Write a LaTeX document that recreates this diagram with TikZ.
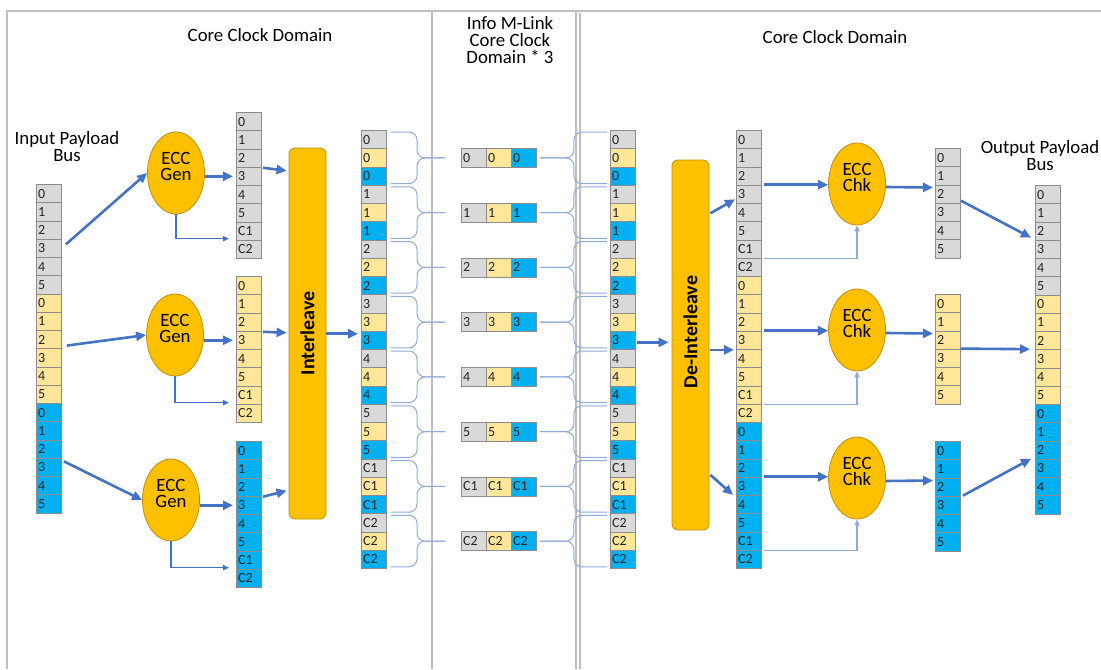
\documentclass[tikz,border=0pt]{standalone}
\usepackage{fontspec}
\setmainfont{Carlito}
\usepackage{graphicx}
\usetikzlibrary{shapes.geometric, arrows.meta, positioning, calc}

\definecolor{cgray}{HTML}{D9D9D9}
\definecolor{cyel}{HTML}{FFE699}
\definecolor{cblue}{HTML}{00B0F0}
\definecolor{eccfill}{HTML}{FFC000}
\definecolor{eccline}{HTML}{C09000}
\definecolor{arrowblue}{HTML}{4472C4}
\definecolor{lightblue}{HTML}{8FAADC}
\definecolor{framegray}{HTML}{BFBFBF}
\definecolor{cellline}{HTML}{8C8C8C}
\colorlet{col0}{cgray}
\colorlet{col1}{cyel}
\colorlet{col2}{cblue}

\begin{document}
\begin{tikzpicture}[
    x=0.5pt, y=-0.5pt,
    cell/.style={draw=cellline, line width=0.45pt, minimum width=12.5pt, minimum height=9.125pt, inner sep=0pt, anchor=north west, text width=10.8pt, align=left, text=black!85, font=\fontsize{7}{7}\selectfont},
    tcell/.style={cell, minimum height=9.5pt},
    ecc/.style={ellipse, draw=eccline, line width=0.4pt, fill=eccfill, minimum width=28.5pt, minimum height=41pt, inner sep=0pt,
        label={[align=center, yshift=3.5pt, font=\fontsize{9.4}{8}\selectfont]center:#1}},
    stage/.style={draw=eccline, line width=0.4pt, fill=eccfill, rounded corners=3pt, minimum width=18.5pt, minimum height=185.5pt, inner sep=0pt, font=\bfseries\fontsize{10}{12}\selectfont},
    flow/.style={-{Triangle[length=5pt,width=4.5pt]}, line width=1.3pt, arrowblue},
    sidearrow/.style={-{Triangle[length=3pt,width=2.6pt]}, line width=0.6pt, arrowblue},
    checkarrow/.style={sidearrow, lightblue},
    bracepath/.style={lightblue, line width=0.5pt, rounded corners=4pt},
    frameline/.style={framegray, line width=1pt},
    heading/.style={align=center, font=\fontsize{9.4}{8.5}\selectfont}
]
\useasboundingbox (0,0) rectangle (1101,669);

% clock domain frames
\draw[frameline] (7,669) -- (7,11) -- (1101,11);
\draw[frameline] (432,11) -- (432,669);
\draw[frameline] (576,11) -- (576,669);
\draw[frameline] (580,13) -- (580,669);

\node[heading] (lefttitle) at (260,35) {Core Clock Domain};
\node[heading] (midtitle) at (510,40) {Info M-Link\\Core Clock\\Domain * 3};
\node[heading] (righttitle) at (835,37) {Core Clock Domain};
\node[heading] (inlabel) at (67,147) {Input Payload\\Bus};
\node[heading] (outlabel) at (1040,156) {Output Payload\\Bus};

% payload buses
\foreach \i in {0,...,17} {
    \pgfmathtruncatemacro\grp{floor(\i/6)}
    \pgfmathtruncatemacro\lab{mod(\i,6)}
    \node[cell, fill=col\grp] (in-\i) at (36,{184+18.25*\i}) {\lab};
    \node[cell, fill=col\grp] (out-\i) at (1035,{185+18.25*\i}) {\lab};
}

% coded words after the generators
\foreach \st/\y/\k in {ga/112/0, gb/276/1, gc/441/2}
    \foreach \lab [count=\j from 0] in {0,1,2,3,4,5,C1,C2}
        \node[cell, fill=col\k] (\st-\j) at (236,{\y+18.25*\j}) {\lab};

% words before the output bus
\foreach \st/\y/\k in {oa/148/0, ob/294/1, oc/441/2}
    \foreach \lab [count=\j from 0] in {0,1,2,3,4,5}
        \node[cell, fill=col\k] (\st-\j) at (935,{\y+18.25*\j}) {\lab};

% interleaved words and link triplets
\foreach \lab [count=\row from 0] in {0,1,2,3,4,5,C1,C2} {
    \foreach \k in {0,1,2} {
        \pgfmathtruncatemacro\idx{3*\row+\k}
        \node[cell, fill=col\k] (il-\idx) at (361,{130+18.25*\idx}) {\lab};
        \node[cell, fill=col\k] (ir-\idx) at (610,{130+18.25*\idx}) {\lab};
        \node[tcell, fill=col\k] (tr\row-\k) at ({461+25*\k},{148+54.75*\row}) {\lab};
    }
}

% de-interleaved words
\foreach \k in {0,1,2}
    \foreach \lab [count=\j from 0] in {0,1,2,3,4,5,C1,C2} {
        \pgfmathtruncatemacro\idx{8*\k+\j}
        \node[cell, fill=col\k] (dl-\idx) at (736,{130+18.25*\idx}) {\lab};
    }

% braces to and from the link
\foreach \row in {0,...,7} {
    \pgfmathtruncatemacro\ta{3*\row}
    \pgfmathtruncatemacro\tb{3*\row+2}
    \draw[bracepath] ($(il-\ta.north east)+(4,2)$) -| ($(tr\row-0.west)+(-44,0)$) -- ($(tr\row-0.west)+(-16,0)$);
    \draw[bracepath] ($(il-\tb.south east)+(4,-2)$) -| ($(tr\row-0.west)+(-44,0)$) -- ($(tr\row-0.west)+(-16,0)$);
    \draw[bracepath] ($(ir-\ta.north west)+(-3,2)$) -| ($(tr\row-2.east)+(37,0)$) -- ($(tr\row-2.east)+(3,0)$);
    \draw[bracepath] ($(ir-\tb.south west)+(-3,-2)$) -| ($(tr\row-2.east)+(37,0)$) -- ($(tr\row-2.east)+(3,0)$);
}

% generators, checkers, interleavers
\node[ecc={ECC\\Gen}] (gen1) at (176,173) {};
\node[ecc={ECC\\Gen}] (gen2) at (175,335) {};
\node[ecc={ECC\\Gen}] (gen3) at (171,500) {};
\node[ecc={ECC\\Chk}] (chk1) at (857,184) {};
\node[ecc={ECC\\Chk}] (chk2) at (857,330) {};
\node[ecc={ECC\\Chk}] (chk3) at (857,478) {};
\node[stage] (ilv) at (307.5,333.5) {\rotatebox{90}{Interleave}};
\node[stage, minimum height=185pt] (dlv) at (690.5,345) {\rotatebox{90}{\hspace*{13pt}De-Interleave}};

% encode side
\draw[flow] ($(in-3.east)+(4,-4)$) -- (gen1.west);
\draw[flow] ($(in-8.east)+(5,6)$) -- (gen2.west);
\draw[flow] ($(in-15.east)+(2,-6)$) -- (gen3.west);
\foreach \g/\st/\dy in {gen1/ga/4, gen2/gb/2, gen3/gc/-5} {
    \draw[flow] (\g.east |- \st-3) -- ($(\st-3.west)+(-3,0)$);
    \draw[sidearrow] (\g.south) |- ($(\st-6.south west)+(-7,-2)$);
    \draw[flow] ($(\st-3.north east)+(1,1)$) -- ($(\st-3.north east -| ilv.west)+(-2,\dy)$);
}
\draw[flow] ($(ilv.east |- il-11.north)+(0,3)$) -- ($(il-11.north west)+(-3,3)$);

% decode side
\draw[flow] ($(ir-11.east)+(1,2)$) -- ($(ir-11.east -| dlv.west)+(-3,2)$);
\draw[flow] ($(dlv.east |- dl-3.west)+(1,19)$) -- ($(dl-3.west)+(-1,5)$);
\draw[flow] ($(dlv.east |- dl-11.south)+(1,0)$) -- ($(dl-11.south west)+(-2,0)$);
\draw[flow] ($(dlv.east |- dl-19.south)+(1,-21)$) -- ($(dl-19.south west)+(-3,-1)$);
\foreach \c/\n/\m/\st in {chk1/3/6/oa, chk2/11/14/ob, chk3/19/22/oc} {
    \draw[flow] ($(dl-\n.north east)+(2,0)$) -- (\c.west |- dl-\n.north);
    \draw[checkarrow] ($(dl-\m.south east)+(2,0)$) -| (\c.south);
    \draw[flow] ($(\c.east)+(0,3)$) -- ($(\st-2.north west)+(-2,3)$);
}
\draw[flow] ($(oa-2.south east)+(0,-3)$) -- ($(out-2.south west)+(-4,-3)$);
\draw[flow] ($(ob-2.south east)+(0,-1)$) -- ($(out-8.south west)+(-5,-1)$);
\draw[flow] ($(oc-2.south east)+(2,-1)$) -- ($(out-15.north west)+(-4,0)$);

\end{tikzpicture}
\end{document}
